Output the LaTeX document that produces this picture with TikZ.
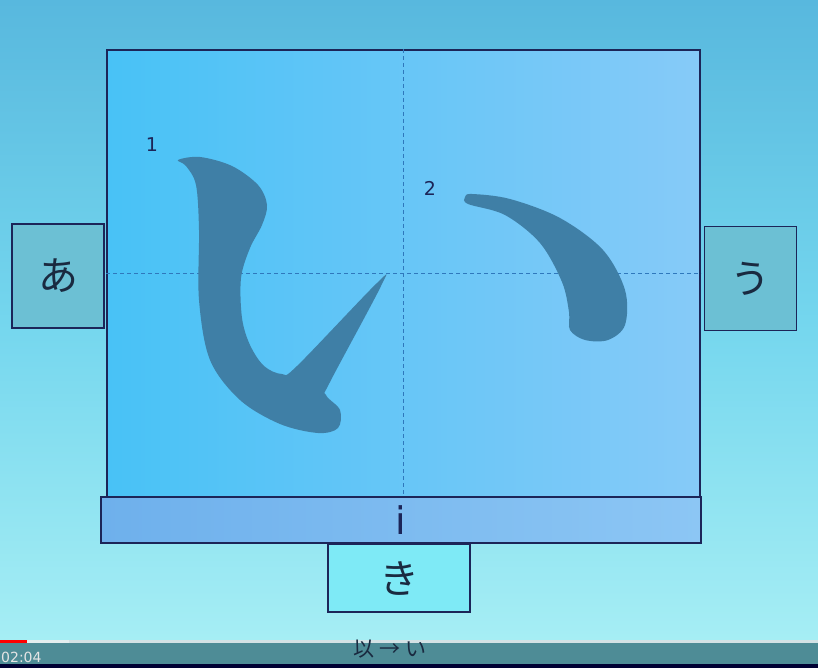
\documentclass[tikz,border=0pt]{standalone}
\usepackage{fontspec}
\setmainfont{DejaVu Sans}
\newfontfamily\jpfont{Noto Sans CJK JP}
\usetikzlibrary{positioning,arrows.meta}

\definecolor{skytop}{HTML}{58B8DE}
\definecolor{skymid}{HTML}{74D6EE}
\definecolor{skylow}{HTML}{A6EEF4}
\definecolor{playbar}{HTML}{4E8C96}
\definecolor{frameline}{HTML}{1C2558}
\definecolor{gridleft}{HTML}{48C2F6}
\definecolor{gridright}{HTML}{86CAF8}
\definecolor{barleft}{HTML}{6EB0EC}
\definecolor{barright}{HTML}{8CC6F4}
\definecolor{sidebox}{HTML}{6CC0D4}
\definecolor{lowbox}{HTML}{7EEAF6}
\definecolor{guidecol}{HTML}{2F78BC}
\definecolor{inkcol}{HTML}{3F7FA6}
\definecolor{kanatext}{HTML}{1A2A40}

\begin{document}
\begin{tikzpicture}[x=1pt,y=-1pt,
  kana/.style={draw=frameline,line width=1.4pt,fill=#1,inner sep=0pt,
    minimum width=92pt,minimum height=104pt,text=kanatext,
    font=\jpfont\fontsize{40}{40}\selectfont},
  guide/.style={draw=guidecol,dash pattern=on 4pt off 3pt,line width=1pt},
  brush/.style={fill=inkcol},
  order/.style={text=frameline,font=\fontsize{19}{19}\selectfont}]

\useasboundingbox (0,0) rectangle (818,668);
% background and player bar
\shade[top color=skytop,bottom color=skylow,middle color=skymid] (0,0) rectangle (818,640);
\fill[playbar] (0,640) rectangle (818,668);
\fill[black!80!blue] (0,664) rectangle (818,668);
\fill[white!75!playbar] (0,639.5) rectangle (818,642.5);
\fill[white!85!playbar] (27,639.5) rectangle (69,642.5);
\fill[red] (0,639.5) rectangle (27,642.5);
\node[text=white!90!black,font=\fontsize{14}{14}\selectfont,inner sep=0pt,anchor=west] (clock) at (1,657) {02:04};

% neighbour kana
\node[kana=sidebox] (a) at (58,276) {あ};
\node[kana=sidebox] (u) at (750.5,278.5) {う};
\node[kana=lowbox,minimum width=142pt,minimum height=68pt] (ki) at (399,578) {き};

% writing grid
\node[draw=frameline,line width=2pt,left color=gridleft,right color=gridright,
  minimum width=593pt,minimum height=447pt,inner sep=0pt] (grid) at (403.5,273.5) {};
\draw[guide] (grid.north) -- (grid.south);
\draw[guide] (grid.west) -- (grid.east);
\node[draw=frameline,line width=2pt,left color=barleft,right color=barright,
  minimum width=600pt,minimum height=46pt,inner sep=0pt,text=frameline,
  font=\fontsize{38}{38}\selectfont] (romaji) at (401,520) {i};

% strokes of i
\fill[brush] plot[smooth cycle,tension=0.55] coordinates {
  (178,160) (200,157) (232,166) (258,185) (267,205) (262,225) (250,248)
  (241,278) (242,318) (250,345) (264,366) (282,374) (297,366) (377,283)
  (381,286) (330,382) (326,395) (340,410) (338,428) (318,433) (280,424)
  (240,400) (210,360) (199,300) (199,230) (196,185) (186,166)};
\fill[brush] plot[smooth cycle,tension=0.55] coordinates {
  (465,197) (472,194) (510,199) (560,218) (603,250) (625,290) (625,325)
  (608,340) (585,340) (570,330) (569,312) (562,282) (540,243) (505,215)
  (468,204)};
\node[order] (one) at (152,145) {1};
\node[order] (two) at (430,188) {2};

% origin of the letter
\node[text=kanatext,font=\jpfont\fontsize{21}{21}\selectfont] (origin) at (390,649) {以 → い};
\end{tikzpicture}
\end{document}
